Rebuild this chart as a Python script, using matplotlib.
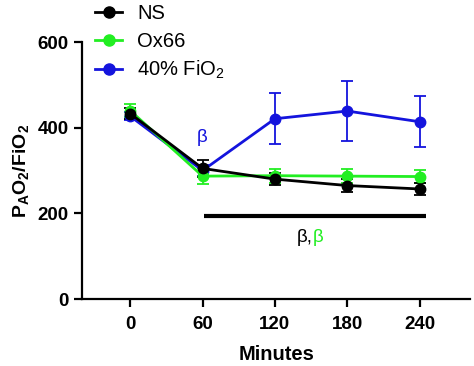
import matplotlib
matplotlib.use("Agg")
import matplotlib.pyplot as plt
from matplotlib.lines import Line2D
import numpy as np

plt.rcParams['font.family'] = ['Liberation Sans', 'DejaVu Sans']
plt.rcParams['mathtext.fontset'] = 'custom'
plt.rcParams['mathtext.rm'] = 'Liberation Sans'
plt.rcParams['mathtext.bf'] = 'Liberation Sans:bold'
plt.rcParams['mathtext.it'] = 'Liberation Sans:italic'

minutes = [0, 60, 120, 180, 240]
ns_mean = [433, 305, 280, 265, 257]
ns_err = [12, 20, 14, 15, 14]
ox_mean = [440, 287, 288, 287, 286]
ox_err = [16, 19, 16, 16, 15]
fio_mean = [427, 300, 421, 439, 414]
fio_err = [10, 12, 59, 70, 59]

series_labels = ['NS', 'Ox66', '40% FiO$_2$']
series_colors = ['#000000', '#22ee22', '#1414dd']

W, H = 474, 366
fig = plt.figure(figsize=(W / 100, H / 100), dpi=100)
ax = fig.add_axes([0.173, 0.183, 0.819, 0.702])

kw = dict(marker='o', markersize=7.5, linewidth=2.0, elinewidth=1.3, capsize=4.5, capthick=1.3)
ax.errorbar(minutes, fio_mean, yerr=fio_err, color=series_colors[2], **kw)
ax.errorbar(minutes, ox_mean, yerr=ox_err, color=series_colors[1], **kw)
ax.errorbar(minutes, ns_mean, yerr=ns_err, color=series_colors[0], **kw)

# significance bar
ax.plot([61, 245], [195, 195], color='black', linewidth=3, solid_capstyle='butt')
ax.text(60, 378, 'β', color=series_colors[2], fontsize=13.5, ha='center', va='center')
ax.text(151, 143, 'β,', color='black', fontsize=13.5, ha='right', va='center')
ax.text(151, 143, 'β', color=series_colors[1], fontsize=13.5, ha='left', va='center')

ax.set_xlim(-40, 282)
ax.set_ylim(0, 600)
ax.set_xticks(minutes)
ax.set_yticks([0, 200, 400, 600])
for s in ['top', 'right']:
    ax.spines[s].set_visible(False)
for s in ['left', 'bottom']:
    ax.spines[s].set_linewidth(1.6)
ax.tick_params(width=1.6, length=6, labelsize=13.5)
ax.tick_params(axis='x', pad=6)
for lab in ax.get_xticklabels() + ax.get_yticklabels():
    lab.set_fontweight('bold')
ax.set_xlabel('Minutes', fontsize=14.5, fontweight='bold', labelpad=9)
ax.set_ylabel(r'$\mathbf{P_{A}O_{2}/FiO_{2}}$', fontsize=14, labelpad=5)

# legend (manual placement, figure pixel coords)
for i, (lab, col) in enumerate(zip(series_labels, series_colors)):
    yc = 1 - (12 + 28.3 * i) / H
    fig.add_artist(Line2D([95 / W, 122 / W], [yc, yc], color=col, linewidth=2.0,
                          transform=fig.transFigure))
    fig.add_artist(Line2D([108.5 / W], [yc], color=col, marker='o', markersize=8,
                          linestyle='none', transform=fig.transFigure))
    fig.text(137 / W, yc - 7 / H, lab, fontsize=14.5, ha='left', va='baseline')

fig.savefig('out.png', dpi=100)
